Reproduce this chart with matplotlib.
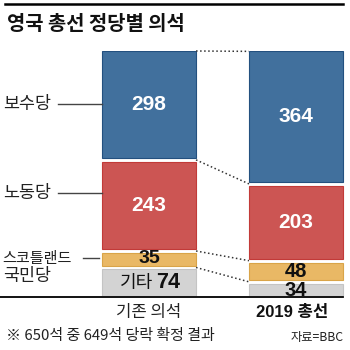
import matplotlib
matplotlib.use("Agg")
import matplotlib.pyplot as plt
import numpy as np

plt.rcParams['font.family'] = ['Noto Sans CJK KR', 'DejaVu Sans']

# data (bottom -> top)
parties = ['기타', '스코틀랜드 국민당', '노동당', '보수당']
before = [74, 35, 243, 298]
after = [34, 48, 203, 364]
columns = ['기존 의석', '2019 총선']

colors = ['#d3d3d3', '#e9b865', '#cc5553', '#41709d']
edges = ['#c4c4c4', '#d9a448', '#c23a38', '#23507f']
num_font = ['Liberation Sans Narrow', 'Liberation Sans', 'Noto Sans CJK KR']

gap = 11
W, H = 350, 350
fig = plt.figure(figsize=(3.5, 3.5), dpi=100)

# axes covering bar area in y, full width in x
ax = fig.add_axes([0, 1 - 296 / H, 1, 245 / H])
ax.set_xlim(-149 / 147, (W - 149) / 147)
ax.set_ylim(0, sum(before) + 3 * gap)
ax.axis('off')
bw = 0.64


def stack(vals):
    bots = []
    b = 0
    for v in vals:
        bots.append(b)
        b += v + gap
    return bots


bot_l = stack(before)
bot_r = stack(after)

for i in range(4):
    ax.bar(0, before[i], bw, bottom=bot_l[i], color=colors[i], edgecolor=edges[i], linewidth=0.8)
    ax.bar(1, after[i], bw, bottom=bot_r[i], color=colors[i], edgecolor=edges[i], linewidth=0.8)

# value labels
for i in [2, 3]:
    ax.text(0, bot_l[i] + before[i] / 2, str(before[i]), ha='center', va='center',
            color='white', fontsize=15, fontweight='bold', family=num_font)
    ax.text(1, bot_r[i] + after[i] / 2, str(after[i]), ha='center', va='center',
            color='white', fontsize=15, fontweight='bold', family=num_font)
ax.text(0, bot_l[1] + before[1] / 2 + 1, str(before[1]), ha='center', va='center',
        color='#111111', fontsize=14, fontweight='bold', family=num_font)
ax.text(0.13, bot_l[0] + before[0] / 2, str(before[0]), ha='center', va='center',
        color='#111111', fontsize=15.5, fontweight='bold', family=num_font)
ax.text(0.03, bot_l[0] + before[0] / 2, parties[0], ha='right', va='center',
        color='#111111', fontsize=13)
ax.text(1, bot_r[1] + after[1] / 2 - 1, str(after[1]), ha='center', va='center',
        color='#111111', fontsize=14.5, fontweight='bold', family=num_font)
ax.text(1, bot_r[0] + after[0] / 2 - 3, str(after[0]), ha='center', va='center',
        color='#111111', fontsize=14.5, fontweight='bold', family=num_font)

# dotted connectors
x0, x1 = bw / 2, 1 - bw / 2
ax.plot([x0, x1], [bot_l[3] + before[3], bot_r[3] + after[3]], ls=':', color='#333333', lw=1.1, clip_on=False)
for i in [1, 2, 3]:
    ax.plot([x0, x1], [bot_l[i] - gap / 2, bot_r[i] - gap / 2], ls=':', color='#333333', lw=1.1, clip_on=False)

# left labels
lx = -0.995
fs = 12.5
ax.text(lx, bot_l[3] + before[3] / 2, '보수당', ha='left', va='center', fontsize=fs, color='#222222')
ax.plot([-0.62, -bw / 2], [bot_l[3] + before[3] / 2] * 2, color='#444444', lw=1)
yl = bot_l[2] + before[2] * 0.64
ax.text(lx, yl, '노동당', ha='left', va='center', fontsize=fs, color='#222222')
ax.plot([-0.62, -bw / 2], [yl, yl], color='#444444', lw=1)
ys = bot_l[1] + before[1] / 2 + 3
ax.text(lx, ys, '스코틀랜드', ha='left', va='center', fontsize=10.9, color='#222222')
ax.plot([-0.45, -bw / 2 - 0.02], [ys, ys], color='#444444', lw=1)
ax.text(lx, ys - 50, '국민당', ha='left', va='center', fontsize=fs, color='#222222')

# rules
fig.add_artist(plt.Line2D([5 / W, 343 / W], [1 - 4 / H] * 2, color='black', lw=1.8))
fig.add_artist(plt.Line2D([0, 343 / W], [1 - 296.5 / H] * 2, color='black', lw=1.3))

# texts
fig.text(7 / W, 1 - 23 / H, '영국 총선 정당별 의석', ha='left', va='center',
         fontsize=14.3, fontweight='bold', color='#111111')
fig.text(149 / W, 1 - 313 / H, columns[0], ha='center', va='center', fontsize=12, color='#222222')
fig.text(292 / W, 1 - 313 / H, columns[1], ha='center', va='center', fontsize=12,
         fontweight='bold', color='#111111', family=num_font)
fig.text(6 / W, 1 - 336 / H, '※ 650석 중 649석 당락 확정 결과', ha='left', va='center',
         fontsize=10.8, color='#222222')
fig.text(344 / W, 1 - 338 / H, '자료=BBC', ha='right', va='center', fontsize=8.8, color='#222222')

fig.savefig('out.png', dpi=100)
